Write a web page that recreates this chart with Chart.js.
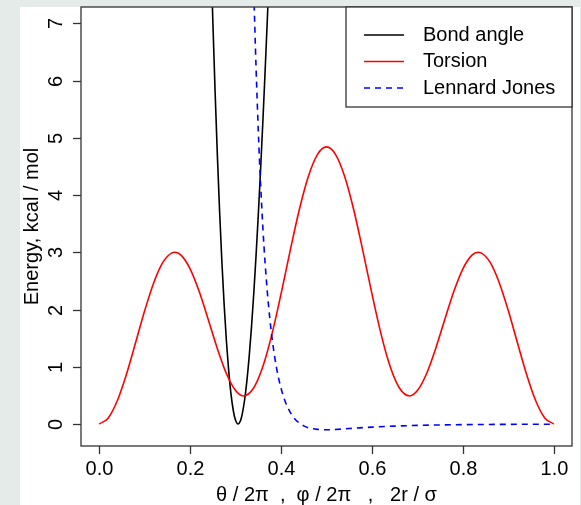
<!DOCTYPE html>
<html>
<head>
<meta charset="utf-8">
<script src="https://cdn.jsdelivr.net/npm/chart.js@4.4.1/dist/chart.umd.min.js"></script>
<style>
  html, body { margin: 0; padding: 0; background: #e5ebe9; }
  #energyChart { display: block; }
</style>
</head>
<body>
<canvas id="energyChart" width="581" height="505"></canvas>
<script>
// values
const torsionX = [0, 0.02, 0.04, 0.06, 0.08, 0.10, 0.12, 0.14, 0.16, 0.1667, 0.18, 0.20, 0.22, 0.24, 0.26, 0.28, 0.30, 0.317, 0.34, 0.36, 0.38, 0.40, 0.42, 0.44, 0.46, 0.48, 0.50,
                  0.52, 0.54, 0.56, 0.58, 0.60, 0.62, 0.64, 0.66, 0.683, 0.70, 0.72, 0.74, 0.76, 0.78, 0.80, 0.82, 0.8333, 0.84, 0.86, 0.88, 0.90, 0.92, 0.94, 0.96, 0.98, 1.00];
const torsionY = [0, 0.107, 0.411, 0.871, 1.419, 1.978, 2.469, 2.823, 2.990, 3.000, 2.949, 2.711, 2.314, 1.823, 1.316, 0.878, 0.584, 0.490, 0.633, 1.003, 1.570, 2.272, 3.025, 3.738, 4.323, 4.706, 4.840,
                  4.706, 4.323, 3.738, 3.025, 2.272, 1.570, 1.003, 0.633, 0.490, 0.584, 0.878, 1.316, 1.823, 2.314, 2.711, 2.949, 3.000, 2.990, 2.823, 2.469, 1.978, 1.419, 0.871, 0.411, 0.107, 0];

const bondX = [0.240, 0.245, 0.250, 0.255, 0.260, 0.265, 0.270, 0.275, 0.280, 0.285, 0.290, 0.295, 0.2975, 0.300, 0.3025, 0.305, 0.3075, 0.310, 0.3125, 0.315,
               0.320, 0.325, 0.330, 0.335, 0.340, 0.345, 0.350, 0.355, 0.360, 0.365, 0.370, 0.375, 0.380];
const bondY = [9.857, 8.385, 7.032, 5.799, 4.684, 3.691, 2.818, 2.066, 1.432, 0.918, 0.519, 0.236, 0.136, 0.064, 0.019, 0.001, 0.009, 0.043, 0.102, 0.187,
               0.428, 0.763, 1.186, 1.693, 2.277, 2.934, 3.657, 4.442, 5.281, 6.167, 7.097, 8.060, 9.053];

const ljX = [0.33, 0.34, 0.35, 0.36, 0.37, 0.38, 0.39, 0.40, 0.41, 0.42, 0.43, 0.44, 0.45, 0.46, 0.48, 0.50, 0.55, 0.60, 0.65, 0.70, 0.75, 0.80, 0.85, 0.90, 0.95, 1.00];
const ljY = [11.36, 7.615, 5.119, 3.435, 2.293, 1.517, 0.986, 0.624, 0.376, 0.208, 0.094, 0.017, -0.033, -0.065, -0.094, -0.100, -0.079, -0.054, -0.036, -0.024, -0.016, -0.011, -0.008, -0.006, -0.004, -0.003];

const seriesNames = ["Bond angle", "Torsion", "Lennard Jones"];
const xTicks = [0, 0.2, 0.4, 0.6, 0.8, 1.0];
const yTicks = [0, 1, 2, 3, 4, 5, 6, 7];
const xTitle = "\u03b8 / 2\u03c0  ,  \u03c6 / 2\u03c0   ,   2r / \u03c3";
const yTitle = "Energy, kcal / mol";

function pts(xs, ys) {
  return xs.map((x, i) => ({ x: x, y: ys[i] }));
}

const FONT = '20px "Liberation Sans", Arial, sans-serif';

// R-style frame, ticks, labels and legend
const rFrame = {
  id: 'rFrame',
  beforeDraw(chart) {
    const ctx = chart.ctx;
    ctx.save();
    ctx.fillStyle = '#e5ebe9';
    ctx.fillRect(0, 0, chart.width, chart.height);
    ctx.fillStyle = '#ffffff';
    ctx.fillRect(20, 7, 560, chart.height - 7);
    ctx.restore();
  },
  afterDraw(chart) {
    const ctx = chart.ctx;
    const a = chart.chartArea;
    const xs = chart.scales.x, ys = chart.scales.y;
    ctx.save();
    ctx.strokeStyle = '#333';
    ctx.lineWidth = 1.3;
    ctx.strokeRect(a.left, a.top, a.right - a.left, a.bottom - a.top);

    ctx.fillStyle = '#000';
    ctx.font = FONT;
    // x ticks
    ctx.textAlign = 'center';
    ctx.textBaseline = 'middle';
    xTicks.forEach(v => {
      const px = Math.round(xs.getPixelForValue(v)) + 0.5;
      ctx.beginPath();
      ctx.moveTo(px, a.bottom);
      ctx.lineTo(px, a.bottom + 8);
      ctx.stroke();
      ctx.fillText(v.toFixed(1), px, 469);
    });
    // y ticks, labels parallel to axis
    yTicks.forEach(v => {
      const py = Math.round(ys.getPixelForValue(v)) + 0.5;
      ctx.beginPath();
      ctx.moveTo(a.left - 8, py);
      ctx.lineTo(a.left, py);
      ctx.stroke();
      ctx.save();
      ctx.translate(56, py);
      ctx.rotate(-Math.PI / 2);
      ctx.fillText(String(v), 0, 0);
      ctx.restore();
    });
    // axis titles
    ctx.fillText(xTitle, (a.left + a.right) / 2, 495);
    ctx.save();
    ctx.translate(32, (a.top + a.bottom) / 2);
    ctx.rotate(-Math.PI / 2);
    ctx.fillText(yTitle, 0, 0);
    ctx.restore();

    // legend box in top right corner
    const lx = 346, ly = a.top, lw = a.right - lx, lh = 100;
    ctx.fillStyle = '#fff';
    ctx.fillRect(lx, ly, lw, lh);
    ctx.strokeStyle = '#333';
    ctx.strokeRect(lx, ly, lw, lh);
    chart.data.datasets.forEach((ds, i) => {
      const y = 35 + i * 26.5;
      ctx.strokeStyle = ds.borderColor;
      ctx.lineWidth = 1.6;
      ctx.setLineDash(ds.borderDash || []);
      ctx.beginPath();
      ctx.moveTo(364, y);
      ctx.lineTo(404, y);
      ctx.stroke();
      ctx.setLineDash([]);
      ctx.fillStyle = '#000';
      ctx.textAlign = 'left';
      ctx.fillText(ds.label, 423, y);
    });
    ctx.restore();
  }
};

const data = {
  datasets: [
    {
      label: seriesNames[0],
      data: pts(bondX, bondY),
      borderColor: '#000000',
      borderWidth: 1.6,
      order: 3
    },
    {
      label: seriesNames[1],
      data: pts(torsionX, torsionY),
      borderColor: '#ff0000',
      borderWidth: 1.6,
      order: 2
    },
    {
      label: seriesNames[2],
      data: pts(ljX, ljY),
      borderColor: '#0000ff',
      borderWidth: 1.6,
      borderDash: [6, 5],
      order: 1
    }
  ]
};

const config = {
  type: 'line',
  data: data,
  options: {
    responsive: false,
    animation: false,
    devicePixelRatio: 1,
    layout: { padding: { left: 81, right: 9, top: 7, bottom: 59 } },
    elements: {
      point: { radius: 0 },
      line: { cubicInterpolationMode: 'monotone', fill: false }
    },
    plugins: {
      legend: { display: false },
      tooltip: { enabled: false }
    },
    scales: {
      x: { type: 'linear', min: -0.04, max: 1.04, display: false },
      y: { type: 'linear', min: -0.384, max: 7.284, display: false }
    }
  },
  plugins: [rFrame]
};

const myChart = new Chart(document.getElementById('energyChart'), config);
</script>
</body>
</html>
